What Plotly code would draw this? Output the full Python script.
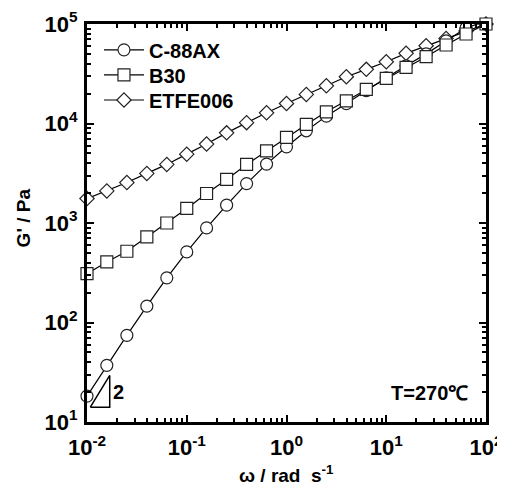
import plotly.graph_objects as go

omega = [0.01, 0.0158, 0.0251, 0.0398, 0.0631, 0.1, 0.158, 0.251, 0.398, 0.631,
         1.0, 1.58, 2.51, 3.98, 6.31, 10.0, 15.8, 25.1, 39.8, 63.1, 100.0]

g_c88ax = [18.2, 37.1, 74.3, 146, 281, 512, 893, 1510, 2490, 3910,
           5830, 8450, 11860, 15850, 21400, 28800, 38000, 50100, 67600, 91200, 107000]
g_b30 = [310, 406, 520, 724, 1000, 1400, 1980, 2740, 3880, 5310,
         7240, 9790, 13100, 16900, 22000, 28400, 36600, 46900, 61500, 79300, 100000]
g_etfe = [1760, 2100, 2550, 3150, 3880, 4920, 6210, 8050, 10200, 12800,
          15900, 19600, 23900, 29500, 35000, 41700, 50700, 60400, 71600, 85100, 100000]

series_names = ["C-88AX", "B30", "ETFE006"]

# slope triangle (decoration)
tri_x = [0.0108, 0.0169, 0.0169, 0.0108]
tri_y = [14.1, 29.4, 14.1, 14.1]

ytick_vals = [10, 100, 1000, 10000, 100000]
ytick_text = ["10<sup>1</sup>", "10<sup>2</sup>", "10<sup>3</sup>", "10<sup>4</sup>", "10<sup>5</sup>"]
xtick_vals = [0.01, 0.1, 1, 10, 100]
xtick_text = ["10<sup>-2</sup>", "10<sup>-1</sup>", "10<sup>0</sup>", "10<sup>1</sup>", "10<sup>2</sup>"]

FONT = "Liberation Sans, Arial, sans-serif"

fig = go.Figure()

def add(name, y, symbol, legend_id, size):
    fig.add_trace(go.Scatter(
        x=omega, y=y, name=name, mode="lines+markers",
        line=dict(color="black", width=1.2),
        marker=dict(symbol=symbol, size=size, color="white",
                    line=dict(color="#222222", width=1.2)),
        legend=legend_id, cliponaxis=False,
    ))

add(series_names[2], g_etfe, "diamond", "legend3", 11)
add(series_names[0], g_c88ax, "circle", "legend", 12)
add(series_names[1], g_b30, "square", "legend2", 12)

fig.add_trace(go.Scatter(x=tri_x, y=tri_y, mode="lines", showlegend=False,
                         line=dict(color="black", width=1.5), hoverinfo="skip"))

axis_common = dict(
    type="log", showgrid=False, zeroline=False, automargin=False,
    showline=True, linecolor="black", linewidth=3, mirror="ticks",
    ticks="inside", ticklen=7, tickwidth=2, tickcolor="black",
    tickfont=dict(family=FONT, size=22, color="black", weight="bold"),
    minor=dict(ticks="inside", ticklen=4, tickwidth=1.5, tickcolor="black", dtick="D1", showgrid=False),
)

fig.update_xaxes(**axis_common, range=[-2, 2], tickvals=xtick_vals, ticktext=xtick_text,
                 ticklabelstandoff=4)
fig.update_yaxes(**axis_common, range=[1, 5], tickvals=ytick_vals, ticktext=ytick_text,
                 ticklabelstandoff=2)

title_font = dict(family=FONT, size=19, color="black", weight="bold")
fig.add_annotation(x=0.499, y=-0.131, xref="paper", yref="paper",
                   text="ω / rad  s<sup>-1</sup>", showarrow=False,
                   xanchor="center", yanchor="middle", font=title_font)
fig.add_annotation(x=-0.160, y=0.512, xref="paper", yref="paper",
                   text="G' / Pa", showarrow=False, textangle=-90,
                   xanchor="center", yanchor="middle", font=title_font)

fig.add_annotation(x=0.080, y=0.075, xref="paper", yref="paper", text="2", showarrow=False,
                   xanchor="center", yanchor="middle",
                   font=dict(family=FONT, size=20, color="black", weight="bold"))
fig.add_annotation(x=0.96, y=0.073, xref="paper", yref="paper", text="T=270℃", showarrow=False,
                   xanchor="right", yanchor="middle",
                   font=dict(family=FONT, size=20, color="black", weight="bold"))

leg_font = dict(family=FONT, size=20, color="black", weight="bold")
leg_common = dict(x=0.030, xanchor="left", yanchor="middle", bgcolor="rgba(0,0,0,0)",
                  font=leg_font, itemwidth=40)

# page body has an 8px margin: figure is sized/offset to land the plot on the reference frame
fig.update_layout(
    width=497, height=475,
    margin=dict(l=79, r=19, t=16, b=61, autoexpand=False),
    paper_bgcolor="white", plot_bgcolor="white",
    showlegend=True,
    legend=dict(**leg_common, y=0.935),
    legend2=dict(**leg_common, y=0.872),
    legend3=dict(**leg_common, y=0.809),
)

fig.write_html("out.html")
